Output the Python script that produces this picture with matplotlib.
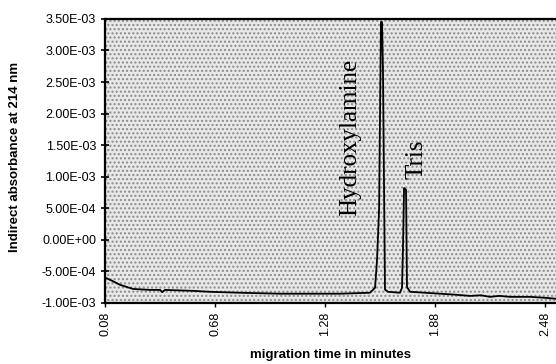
import matplotlib.pyplot as plt
from matplotlib.patches import Rectangle

plt.rcParams['font.family'] = 'Liberation Sans'

# electropherogram trace (time in min, absorbance)
times = [0.08, 0.118, 0.162, 0.233, 0.325, 0.38, 0.391, 0.407, 0.56, 0.653,
         0.816, 1.035, 1.144, 1.362, 1.525, 1.553, 1.564, 1.575, 1.585, 1.591,
         1.596, 1.607, 1.624, 1.689, 1.70, 1.705, 1.711, 1.722, 1.727, 1.744,
         1.907, 1.989, 2.071, 2.13, 2.18, 2.23, 2.289, 2.398, 2.48, 2.54]
absorb = [-6.0e-4, -6.5e-4, -7.15e-4, -7.8e-4, -7.95e-4, -7.95e-4, -8.3e-4, -7.95e-4, -8.1e-4, -8.25e-4,
          -8.4e-4, -8.55e-4, -8.55e-4, -8.55e-4, -8.4e-4, -7.6e-4, -3.0e-4, 5.0e-4, 3.45e-3, 3.45e-3,
          2.7e-3, -7.9e-4, -8.25e-4, -8.4e-4, -7.6e-4, -1.6e-4, 8.2e-4, 7.9e-4, -7.5e-4, -8.25e-4,
          -8.55e-4, -8.7e-4, -8.9e-4, -8.8e-4, -9.05e-4, -8.9e-4, -9.05e-4, -9.05e-4, -9.2e-4, -9.35e-4]

x_ticks = [0.08, 0.68, 1.28, 1.88, 2.48]
y_ticks = [-1.0e-3, -5.0e-4, 0.0, 5.0e-4, 1.0e-3, 1.5e-3, 2.0e-3, 2.5e-3, 3.0e-3, 3.5e-3]
y_labels = ['-1.00E-03', '-5.00E-04', '0.00E+00', '5.00E-04', '1.00E-03',
            '1.50E-03', '2.00E-03', '2.50E-03', '3.00E-03', '3.50E-03']

fig = plt.figure(figsize=(5.56, 3.64), dpi=100)
ax = fig.add_axes([0.189, 0.168, 0.811, 0.78])

# speckled grey plot area
ax.set_facecolor('#e8e8e8')
ax.add_patch(Rectangle((0, 0), 1, 1, transform=ax.transAxes, facecolor='none',
                       edgecolor='#8a8a8a', hatch='....', linewidth=0, zorder=0))

ax.plot(times, absorb, color='black', linewidth=1.3, zorder=3)

ax.set_xlim(0.08, 2.54)
ax.set_ylim(-1.0e-3, 3.5e-3)
ax.set_xticks(x_ticks)
ax.set_xticklabels([f'{t:.2f}' for t in x_ticks], rotation=90, fontsize=9)
ax.set_yticks(y_ticks)
ax.set_yticklabels(y_labels, fontsize=9)
ax.tick_params(axis='y', direction='inout', length=6, width=1.2)
ax.tick_params(axis='x', direction='out', length=3, width=1.0)

for side in ['top', 'left', 'bottom']:
    ax.spines[side].set_linewidth(1.6)
ax.spines['right'].set_visible(False)

ax.text(1.42, 1.63e-3, 'Hydroxylamine', rotation=90, ha='center', va='center',
        fontsize=18, family='Liberation Serif')
ax.text(1.78, 1.27e-3, 'Tris', rotation=90, ha='center', va='center',
        fontsize=18, family='Liberation Serif')

fig.text(0.027, 0.57, 'Indirect absorbance at 214 nm', rotation=90, ha='center',
         va='center', fontsize=9.5, fontweight='bold')
ax.set_xlabel('migration time in minutes', fontsize=9.5, fontweight='bold', labelpad=9)

fig.savefig('out.png', dpi=100, facecolor='white')
